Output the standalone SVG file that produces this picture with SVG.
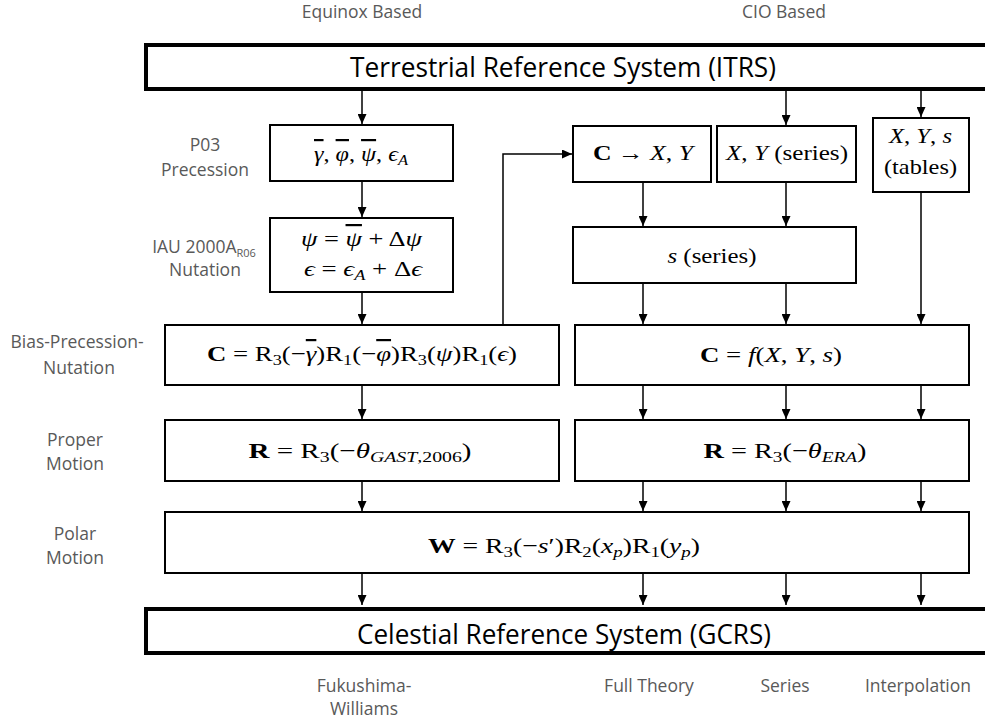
<svg xmlns="http://www.w3.org/2000/svg" width="985" height="721" viewBox="0 0 985 721">
<style>
.box{fill:#fff;stroke:#000;stroke-width:2}
.big{fill:#fff;stroke:#000;stroke-width:4}
.lbl{font-family:"Open Sans","Liberation Sans",sans-serif;font-size:17.5px;fill:#595959;text-anchor:middle}
.ttl{font-family:"Open Sans","Liberation Sans",sans-serif;font-size:27px;fill:#000;text-anchor:middle}
.m{font-family:"Liberation Serif","DejaVu Serif",serif;font-size:22px;fill:#000;text-anchor:middle}
.i{font-style:italic}
.b{font-weight:bold}
.s{font-size:15px}
.bar{text-decoration:overline}
.con line,.con path{stroke:#000;stroke-width:1.5;fill:none;marker-end:url(#ah)}
</style>
<defs>
<marker id="ah" markerWidth="10" markerHeight="9" refX="10" refY="4.5" orient="auto" markerUnits="userSpaceOnUse">
<path d="M0,0 L10,4.5 L0,9 z" fill="#000"/>
</marker>
</defs>
<rect width="985" height="721" fill="#fff"/>

<g id="headers">
<text class="lbl" x="362" y="18">Equinox Based</text>
<text class="lbl" x="784" y="18">CIO Based</text>
</g>

<g id="side-labels">
<text class="lbl" x="205" y="151">P03</text>
<text class="lbl" x="205" y="176">Precession</text>
<text class="lbl" x="204" y="253">IAU 2000A<tspan font-size="11" dy="4">R06</tspan></text>
<text class="lbl" x="205" y="276">Nutation</text>
<text class="lbl" x="77" y="348">Bias-Precession-</text>
<text class="lbl" x="79" y="374">Nutation</text>
<text class="lbl" x="75" y="446">Proper</text>
<text class="lbl" x="75" y="470">Motion</text>
<text class="lbl" x="75" y="540">Polar</text>
<text class="lbl" x="75" y="564">Motion</text>
<text class="lbl" x="364" y="692">Fukushima-</text>
<text class="lbl" x="364" y="715">Williams</text>
<text class="lbl" x="649" y="692">Full Theory</text>
<text class="lbl" x="785" y="692">Series</text>
<text class="lbl" x="918" y="692">Interpolation</text>
</g>

<g id="connectors" class="con">
<line x1="362" y1="91" x2="362" y2="124"/>
<line x1="786" y1="91" x2="786" y2="125"/>
<line x1="921" y1="91" x2="921" y2="117"/>
<line x1="362" y1="181" x2="362" y2="217"/>
<line x1="362" y1="292" x2="362" y2="324"/>
<line x1="362" y1="385" x2="362" y2="419"/>
<line x1="362" y1="481" x2="362" y2="511"/>
<line x1="362" y1="573" x2="362" y2="605"/>
<path d="M503,325 V154 H572"/>
<line x1="643" y1="182" x2="643" y2="226"/>
<line x1="786" y1="182" x2="786" y2="226"/>
<line x1="643" y1="283" x2="643" y2="324"/>
<line x1="786" y1="283" x2="786" y2="324"/>
<line x1="921" y1="192" x2="921" y2="324"/>
<line x1="643" y1="385" x2="643" y2="419"/>
<line x1="786" y1="385" x2="786" y2="419"/>
<line x1="921" y1="385" x2="921" y2="419"/>
<line x1="643" y1="481" x2="643" y2="511"/>
<line x1="786" y1="481" x2="786" y2="511"/>
<line x1="921" y1="481" x2="921" y2="511"/>
<line x1="643" y1="573" x2="643" y2="605"/>
<line x1="786" y1="573" x2="786" y2="605"/>
<line x1="921" y1="573" x2="921" y2="605"/>
</g>

<g id="itrs">
<rect class="big" x="146" y="45" width="850" height="44"/>
<text class="ttl" x="563" y="77" textLength="426" lengthAdjust="spacingAndGlyphs">Terrestrial Reference System (ITRS)</text>
</g>

<g id="p03">
<rect class="box" x="270" y="125" width="183" height="56"/>
<text class="m" x="361" y="161" textLength="94" lengthAdjust="spacingAndGlyphs"><tspan class="i bar">γ</tspan>, <tspan class="i bar">φ</tspan>, <tspan class="i bar">ψ</tspan>, <tspan class="i">ϵ</tspan><tspan class="i s" dy="4">A</tspan></text>
</g>

<g id="nutation">
<rect class="box" x="270" y="218" width="183" height="74"/>
<text class="m" x="361.5" y="246" textLength="121" lengthAdjust="spacingAndGlyphs"><tspan class="i">ψ</tspan> = <tspan class="i bar">ψ</tspan> + Δ<tspan class="i">ψ</tspan></text>
<text class="m" x="363" y="276" textLength="118" lengthAdjust="spacingAndGlyphs"><tspan class="i">ϵ</tspan> = <tspan class="i">ϵ</tspan><tspan class="i s" dy="4">A</tspan><tspan dy="-4"> + Δ</tspan><tspan class="i">ϵ</tspan></text>
</g>

<g id="bpn">
<rect class="box" x="165" y="325" width="394" height="60"/>
<text class="m" x="362" y="361" textLength="310" lengthAdjust="spacingAndGlyphs"><tspan class="b">C</tspan> = R<tspan class="s" dy="4">3</tspan><tspan dy="-4">(−</tspan><tspan class="i bar">γ</tspan>)R<tspan class="s" dy="4">1</tspan><tspan dy="-4">(−</tspan><tspan class="i bar">φ</tspan>)R<tspan class="s" dy="4">3</tspan><tspan dy="-4">(</tspan><tspan class="i">ψ</tspan>)R<tspan class="s" dy="4">1</tspan><tspan dy="-4">(</tspan><tspan class="i">ϵ</tspan>)</text>
</g>

<g id="proper">
<rect class="box" x="165" y="420" width="394" height="61"/>
<text class="m" x="360" y="458" textLength="223" lengthAdjust="spacingAndGlyphs"><tspan class="b">R</tspan> = R<tspan class="s" dy="4">3</tspan><tspan dy="-4">(−</tspan><tspan class="i">θ</tspan><tspan class="s" dy="4"><tspan class="i">GAST</tspan>,2006</tspan><tspan dy="-4">)</tspan></text>
</g>

<g id="cxy">
<rect class="box" x="573" y="126" width="138" height="56"/>
<text class="m" x="643" y="160" textLength="100" lengthAdjust="spacingAndGlyphs"><tspan class="b">C</tspan> → <tspan class="i">X</tspan>, <tspan class="i">Y</tspan></text>
</g>

<g id="xyseries">
<rect class="box" x="717" y="126" width="139" height="56"/>
<text class="m" x="787" y="160" textLength="122" lengthAdjust="spacingAndGlyphs"><tspan class="i">X</tspan>, <tspan class="i">Y</tspan>  (series)</text>
</g>

<g id="tables">
<rect class="box" x="873" y="118" width="96" height="74"/>
<text class="m" x="920.5" y="143" textLength="63" lengthAdjust="spacingAndGlyphs"><tspan class="i">X</tspan>, <tspan class="i">Y</tspan>, <tspan class="i">s</tspan></text>
<text class="m" x="920.5" y="174" textLength="73" lengthAdjust="spacingAndGlyphs">(tables)</text>
</g>

<g id="sseries">
<rect class="box" x="573" y="227" width="283" height="56"/>
<text class="m" x="712" y="263" textLength="89" lengthAdjust="spacingAndGlyphs"><tspan class="i">s</tspan>  (series)</text>
</g>

<g id="cf">
<rect class="box" x="575" y="325" width="394" height="60"/>
<text class="m" x="771" y="362" textLength="142" lengthAdjust="spacingAndGlyphs"><tspan class="b">C</tspan> = <tspan class="i">f</tspan>(<tspan class="i">X</tspan>, <tspan class="i">Y</tspan>, <tspan class="i">s</tspan>)</text>
</g>

<g id="rera">
<rect class="box" x="575" y="420" width="394" height="61"/>
<text class="m" x="785" y="458" textLength="163" lengthAdjust="spacingAndGlyphs"><tspan class="b">R</tspan> = R<tspan class="s" dy="4">3</tspan><tspan dy="-4">(−</tspan><tspan class="i">θ</tspan><tspan class="i s" dy="4">ERA</tspan><tspan dy="-4">)</tspan></text>
</g>

<g id="polar">
<rect class="box" x="165" y="512" width="804" height="61"/>
<text class="m" x="564" y="553" textLength="272" lengthAdjust="spacingAndGlyphs"><tspan class="b">W</tspan> = R<tspan class="s" dy="4">3</tspan><tspan dy="-4">(−</tspan><tspan class="i">s</tspan>′)R<tspan class="s" dy="4">2</tspan><tspan dy="-4">(</tspan><tspan class="i">x</tspan><tspan class="i s" dy="4">p</tspan><tspan dy="-4">)R</tspan><tspan class="s" dy="4">1</tspan><tspan dy="-4">(</tspan><tspan class="i">y</tspan><tspan class="i s" dy="4">p</tspan><tspan dy="-4">)</tspan></text>
</g>

<g id="gcrs">
<rect class="big" x="146" y="609" width="850" height="44"/>
<text class="ttl" x="564" y="644" textLength="414" lengthAdjust="spacingAndGlyphs">Celestial Reference System (GCRS)</text>
</g>
</svg>
